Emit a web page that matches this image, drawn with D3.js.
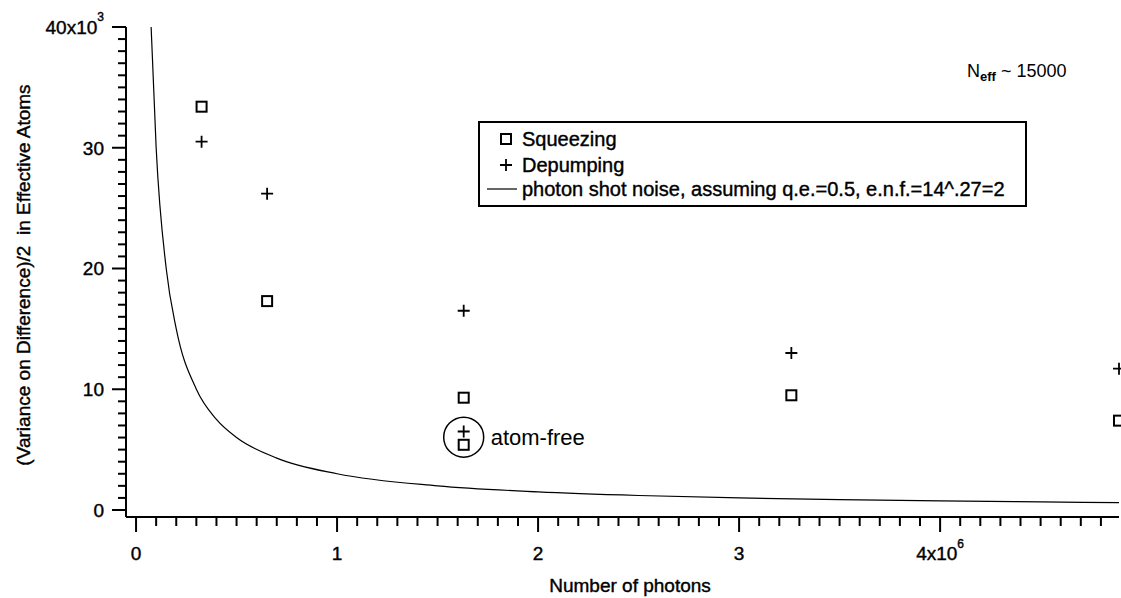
<!DOCTYPE html>
<html lang="en">
<head>
<meta charset="UTF-8">
<title>Variance vs Number of photons</title>
<script src="https://d3js.org/d3.v7.min.js"></script>
<style>
  body { margin: 0; background: #fff; }
  svg text { font-family: "Liberation Sans", Arial, sans-serif; fill: #000; }
  .ax { stroke: #000; stroke-width: 0.4px; }
</style>
</head>
<body>
<svg width="1121" height="598"></svg>
<script>
// data
const photons = [0.326e6, 0.652e6, 1.63e6, 3.26e6, 4.89e6];
const squeezing = [33400, 17300, 9300, 9500, 7400];
const depumping = [30500, 26200, 16500, 13000, 11700];
const atomFreeX = [1.63e6];
const atomFreeSqueezing = [5400];
const atomFreeDepumping = [6500];
// photon shot noise curve
const shotX = [0.075e6, 0.1e6, 0.15e6, 0.2e6, 0.3e6, 0.4e6, 0.5e6, 0.7e6, 1.0e6, 1.5e6, 2.0e6, 2.5e6, 3.0e6, 3.5e6, 4.0e6, 4.5e6, 4.89e6];
const shotY = [40000, 30000, 20000, 15000, 10000, 7500, 6000, 4300, 3000, 2000, 1500, 1200, 1000, 860, 750, 670, 610];
const xTicks = [0, 1e6, 2e6, 3e6, 4e6];
const yTicks = [0, 10000, 20000, 30000, 40000];

const svg = d3.select("svg");

const x = d3.scaleLinear().domain([-0.05e6, 4.89e6]).range([126, 1119]);
const y = d3.scaleLinear().domain([-580, 40000]).range([517, 27]);

// x axis: minor ticks every 0.1e6, majors with labels
const xAxis = svg.append("g").attr("transform", `translate(0,${y.range()[0]})`);
xAxis.append("line")
    .attr("x1", x.range()[0]).attr("x2", x.range()[1])
    .attr("stroke", "#000").attr("stroke-width", 2);
const xMinor = d3.range(0, 49).map(i => i * 0.1e6);
xAxis.selectAll(".minor").data(xMinor).join("line")
    .attr("x1", d => x(d)).attr("x2", d => x(d))
    .attr("y1", 0).attr("y2", d => Math.abs(d % 1e6) < 1 ? 15 : 9)
    .attr("stroke", "#000").attr("stroke-width", 2);
xAxis.selectAll(".lbl").data(xTicks).join("text")
    .attr("class", "ax")
    .attr("x", d => x(d)).attr("y", 43)
    .attr("text-anchor", "middle")
    .attr("font-size", 19)
    .each(function (d, i) {
        const t = d3.select(this);
        if (i === xTicks.length - 1) {
            t.append("tspan").text(d / 1e6 + "x10");
            t.append("tspan").attr("font-size", 12).attr("dy", -12).text("6");
        } else {
            t.text(d / 1e6);
        }
    });

// y axis
const yAxis = svg.append("g").attr("transform", `translate(${x.range()[0]},0)`);
yAxis.append("line")
    .attr("y1", y.range()[0]).attr("y2", y.range()[1])
    .attr("stroke", "#000").attr("stroke-width", 2);
const yMinor = d3.range(0, 41).map(i => i * 1000);
yAxis.selectAll(".minor").data(yMinor).join("line")
    .attr("y1", d => y(d)).attr("y2", d => y(d))
    .attr("x1", 0).attr("x2", d => d % 10000 === 0 ? -14 : -8)
    .attr("stroke", "#000").attr("stroke-width", 2);
yAxis.selectAll(".lbl").data(yTicks).join("text")
    .attr("class", "ax")
    .attr("x", -22).attr("y", d => y(d) + 7)
    .attr("text-anchor", "end")
    .attr("font-size", 19)
    .each(function (d, i) {
        const t = d3.select(this);
        if (i === yTicks.length - 1) {
            t.attr("x", -22);
            t.append("tspan").text(d / 1000 + "x10");
            t.append("tspan").attr("font-size", 12).attr("dy", -13).text("3");
        } else {
            t.text(d / 1000);
        }
    });

// axis titles
svg.append("text")
    .attr("class", "ax")
    .attr("x", 630).attr("y", 592)
    .attr("text-anchor", "middle")
    .attr("font-size", 19)
    .text("Number of photons");
svg.append("text")
    .attr("class", "ax")
    .attr("transform", "translate(30,275) rotate(-90)")
    .attr("text-anchor", "middle")
    .attr("font-size", 19)
    .attr("xml:space", "preserve")
    .text("(Variance on Difference)/2  in Effective Atoms");

// shot noise curve
const shotData = shotX.map((v, i) => [v, shotY[i]]);
svg.append("path")
    .datum(shotData)
    .attr("fill", "none")
    .attr("stroke", "#000")
    .attr("stroke-width", 1.2)
    .attr("d", d3.line().x(d => x(d[0])).y(d => y(d[1])).curve(d3.curveMonotoneX));

// markers
function drawSquares(xs, ys) {
    svg.append("g").selectAll("rect").data(xs).join("rect")
        .attr("x", (d, i) => x(d) - 5).attr("y", (d, i) => y(ys[i]) - 5)
        .attr("width", 10).attr("height", 10)
        .attr("fill", "none").attr("stroke", "#000").attr("stroke-width", 2);
}
function drawPluses(xs, ys) {
    svg.append("g").selectAll("path").data(xs).join("path")
        .attr("d", (d, i) => {
            const cx = x(d), cy = y(ys[i]);
            return `M${cx - 6},${cy}H${cx + 6}M${cx},${cy - 6}V${cy + 6}`;
        })
        .attr("fill", "none").attr("stroke", "#000").attr("stroke-width", 1.8);
}
drawSquares(photons, squeezing);
drawPluses(photons, depumping);
drawSquares(atomFreeX, atomFreeSqueezing);
drawPluses(atomFreeX, atomFreeDepumping);

// atom-free annotation
const afY = (atomFreeSqueezing[0] + atomFreeDepumping[0]) / 2;
svg.append("circle")
    .attr("cx", x(atomFreeX[0])).attr("cy", y(afY) - 1).attr("r", 20)
    .attr("fill", "none").attr("stroke", "#000").attr("stroke-width", 1.5);
svg.append("text")
    .attr("x", x(atomFreeX[0]) + 27).attr("y", y(afY) + 7)
    .attr("font-size", 22)
    .text("atom-free");

// N_eff note
const neff = svg.append("text").attr("x", 967).attr("y", 77).attr("font-size", 18);
neff.append("tspan").text("N");
neff.append("tspan").attr("font-size", 13).attr("font-weight", "bold").attr("dy", 4).text("eff");
neff.append("tspan").attr("dy", -4).text(" ~ 15000");

// legend
const lg = svg.append("g");
lg.append("rect")
    .attr("x", 479).attr("y", 122).attr("width", 547).attr("height", 84)
    .attr("fill", "#fff").attr("stroke", "#000").attr("stroke-width", 2);
const legendItems = ["Squeezing", "Depumping", "photon shot noise, assuming q.e.=0.5, e.n.f.=14^.27=2"];
const legendY = [139, 165, 189];
lg.append("rect").attr("x", 501).attr("y", legendY[0] - 5).attr("width", 10).attr("height", 10)
    .attr("fill", "none").attr("stroke", "#000").attr("stroke-width", 2);
lg.append("path").attr("d", `M500,${legendY[1]}H512M506,${legendY[1] - 6}V${legendY[1] + 6}`)
    .attr("stroke", "#000").attr("stroke-width", 1.8);
lg.append("line").attr("x1", 487).attr("x2", 517).attr("y1", legendY[2]).attr("y2", legendY[2])
    .attr("stroke", "#000").attr("stroke-width", 1.2);
lg.selectAll("text").data(legendItems).join("text")
    .attr("class", "ax")
    .attr("x", 522).attr("y", (d, i) => legendY[i] + 7)
    .attr("font-size", 20)
    .text(d => d);
</script>
</body>
</html>
